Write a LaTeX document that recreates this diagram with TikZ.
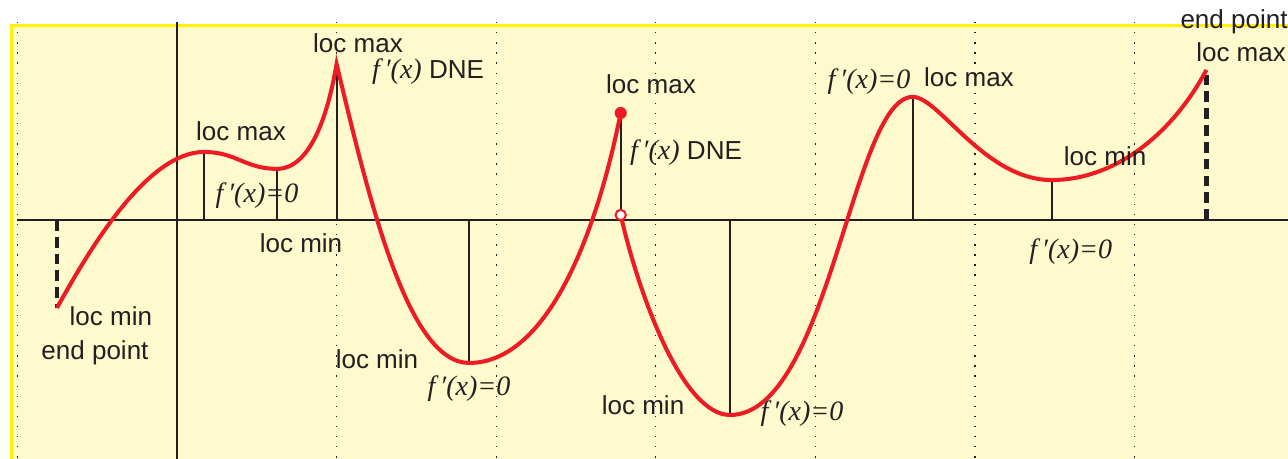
\documentclass[tikz,border=0pt]{standalone}
\usepackage{fontspec}
\setmainfont{Liberation Serif}
\setsansfont{Liberation Sans}
\definecolor{fundo}{RGB}{255,250,205}
\definecolor{borda}{RGB}{255,242,0}
\definecolor{vermelho}{RGB}{237,28,36}
\definecolor{tinta}{RGB}{35,31,32}
\newcommand{\flinha}{{\rmfamily\itshape\fontsize{12.5}{14}\selectfont f\,′(x)}}

\begin{document}
\begin{tikzpicture}[x=2.5cm, y=2.5cm,
  rotulo/.style={font=\sffamily\fontsize{11.6}{13}\selectfont, text=tinta, inner sep=0pt},
  deriv/.style={font=\rmfamily\itshape\fontsize{12.5}{14}\selectfont, text=tinta, inner sep=0pt},
  grade/.style={tinta, line width=0.6pt, dash pattern=on 0.6pt off 3.9pt},
  haste/.style={tinta, line width=0.85pt},
  extremo/.style={tinta, line width=1.9pt, dash pattern=on 4.8pt off 2.7pt},
  curva/.style={vermelho, line width=1.8pt}]
  % Moldura
  \useasboundingbox (-1.109,-1.4975) rectangle (6.961,1.378);
  \fill[fundo] (-1.037,-1.6) rectangle (7,1.219);
  \draw[borda, line width=1.5pt] (-1.037,-1.6) -- (-1.037,1.219) -- (7,1.219);
  % Grade pontilhada
  \foreach \x in {-1,1,2,...,6}
    \draw[grade] (\x,1.24) -- (\x,-1.6);
  % Eixos
  \coordinate (o) at (0,0);
  \draw[tinta, line width=1pt] (-1,0) -- (7,0);
  \draw[tinta, line width=1pt] (0,1.24) -- (0,-1.6);
  % Pontos da curva
  \coordinate (ini) at (-0.752,-0.551);
  \coordinate (max1) at (0.17,0.426);
  \coordinate (min1) at (0.627,0.32);
  \coordinate (bico) at (1,0.977);
  \coordinate (min2) at (1.83,-0.896);
  \coordinate (salto) at (2.78,0.67);
  \coordinate (furo) at (2.78,0.031);
  \coordinate (min3) at (3.465,-1.222);
  \coordinate (max2) at (4.61,0.771);
  \coordinate (min4) at (5.48,0.25);
  \coordinate (fim) at (6.45,0.94);
  % Hastes
  \foreach \p in {max1,min1,bico,min2,min3,max2,min4}
    \draw[haste] (\p) -- (\p |- o);
  \draw[haste] (furo) -- (salto);
  \draw[extremo] (ini |- o) -- (ini);
  \draw[extremo] (fim |- o) -- (fim);
  % Curva
  \draw[curva] (ini) .. controls (-0.534,-0.157) and (-0.18,0.426) .. (max1)
    .. controls (0.37,0.426) and (0.427,0.32) .. (min1)
    .. controls (0.827,0.32) and (0.941,0.631) .. (bico)
    .. controls (1.209,0.101) and (1.45,-0.896) .. (min2)
    .. controls (2.28,-0.896) and (2.602,-0.212) .. (salto);
  \draw[curva] (furo) .. controls (2.89,-0.456) and (3.165,-1.222) .. (min3)
    .. controls (4.085,-1.222) and (4.23,0.771) .. (max2)
    .. controls (4.775,0.771) and (5.06,0.25) .. (min4)
    .. controls (5.88,0.25) and (6.239,0.543) .. (fim);
  \node[circle, fill=vermelho, inner sep=0pt, minimum size=5.4pt] (ponto) at (salto) {};
  \node[circle, draw=vermelho, fill=white, line width=0.9pt, inner sep=0pt, minimum size=4.6pt] (aberto) at (furo) {};
  % Rotulos
  \node[rotulo] (lmaxA) at (0.401,0.558) {loc max};
  \node[deriv] (dzA) at (0.501,0.150) {f\,′(x)=0};
  \node[rotulo] (lminA) at (0.777,-0.144) {loc min};
  \node[rotulo] (lminI) at (-0.414,-0.602) {loc min};
  \node[rotulo] (epI) at (-0.514,-0.833) {end point};
  \node[rotulo] (lmaxB) at (1.134,1.109) {loc max};
  \node[rotulo] (dneB) at (1.573,0.927) {\flinha\ DNE};
  \node[rotulo] (lminB) at (1.253,-0.871) {loc min};
  \node[deriv] (dzB) at (1.83,-1.059) {f\,′(x)=0};
  \node[rotulo] (lmaxC) at (2.97,0.852) {loc max};
  \node[rotulo] (dneC) at (3.189,0.42) {\flinha\ DNE};
  \node[rotulo] (lminC) at (2.92,-1.159) {loc min};
  \node[deriv] (dzC) at (3.916,-1.216) {f\,′(x)=0};
  \node[deriv] (dzD) at (4.336,0.865) {f\,′(x)=0};
  \node[rotulo] (lmaxD) at (4.962,0.896) {loc max};
  \node[rotulo] (lminD) at (5.815,0.401) {loc min};
  \node[deriv] (dzE) at (5.6,-0.2) {f\,′(x)=0};
  \node[rotulo] (epF) at (6.623,1.241) {end point};
  \node[rotulo] (lmaxF) at (6.667,1.053) {loc max};
\end{tikzpicture}
\end{document}
